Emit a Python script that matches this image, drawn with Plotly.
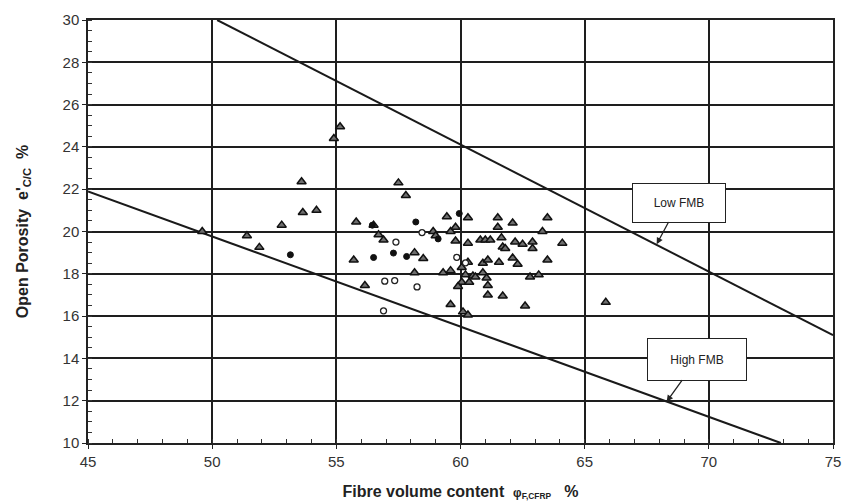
import plotly.graph_objects as go

# ---- data ----
tri_x = [49.6, 51.4, 51.9, 52.8, 53.6, 53.65, 54.2, 54.9, 55.15, 55.8, 55.7, 56.15, 56.5, 56.7,
         56.9, 57.5, 57.8, 58.15, 58.5, 58.15, 58.9, 59.0, 59.45, 59.6, 59.8, 59.8, 60.3, 60.3,
         60.8, 61.0, 61.2, 61.5, 61.5, 61.65, 61.7, 61.8, 62.1, 62.2, 62.5, 62.9, 62.9, 63.5,
         63.3, 64.1, 59.3, 59.6, 60.05, 60.2, 60.05, 59.9, 60.35, 60.3, 60.5, 60.6, 60.9, 61.05,
         61.1, 60.9, 61.1, 61.55, 62.1, 62.3, 63.5, 62.8, 63.15, 61.1, 61.7, 59.6, 62.6, 65.85,
         60.1, 60.3]
tri_y = [20.0, 19.8, 19.25, 20.3, 22.35, 20.9, 21.0, 24.4, 24.95, 20.45, 18.65, 17.45, 20.3, 19.85,
         19.6, 22.3, 21.7, 19.0, 18.72, 18.05, 20.0, 19.8, 20.7, 20.0, 20.2, 19.55, 20.65, 19.45,
         19.6, 19.6, 19.6, 20.65, 20.2, 19.7, 19.27, 19.2, 20.4, 19.5, 19.4, 19.5, 19.2, 20.65,
         20.0, 19.45, 18.05, 18.15, 18.3, 17.95, 17.6, 17.4, 17.6, 18.55, 17.9, 17.85, 18.05, 17.8,
         17.45, 18.5, 18.65, 18.55, 18.75, 18.45, 18.65, 17.85, 17.95, 17.0, 16.95, 16.55, 16.48, 16.65,
         16.2, 16.05]

fill_x = [53.15, 56.5, 57.3, 57.83, 58.2, 59.95, 59.1, 56.45]
fill_y = [18.9, 18.77, 18.98, 18.82, 20.45, 20.85, 19.65, 20.3]

open_x = [58.45, 57.4, 56.95, 57.35, 58.25, 56.9, 59.85, 60.2]
open_y = [19.95, 19.5, 17.65, 17.68, 17.38, 16.25, 18.78, 18.52]

low_fmb_x = [50.2, 75.0]
low_fmb_y = [30.0, 15.1]
high_fmb_x = [45.0, 72.9]
high_fmb_y = [21.9, 10.0]

x_ticks = [45, 50, 55, 60, 65, 70, 75]
y_ticks = [10, 12, 14, 16, 18, 20, 22, 24, 26, 28, 30]

fig = go.Figure()

fig.add_trace(go.Scatter(x=low_fmb_x, y=low_fmb_y, mode="lines",
                         line=dict(color="#1a1a1a", width=2), showlegend=False))
fig.add_trace(go.Scatter(x=high_fmb_x, y=high_fmb_y, mode="lines",
                         line=dict(color="#1a1a1a", width=2), showlegend=False))

fig.add_trace(go.Scatter(x=tri_x, y=tri_y, mode="markers",
                         marker=dict(symbol="triangle-up", size=8, color="#6e6e6e",
                                     line=dict(color="#111", width=1.5)),
                         showlegend=False))
fig.add_trace(go.Scatter(x=fill_x, y=fill_y, mode="markers",
                         marker=dict(symbol="circle", size=6, color="#111",
                                     line=dict(color="#111", width=1)),
                         showlegend=False))
fig.add_trace(go.Scatter(x=open_x, y=open_y, mode="markers",
                         marker=dict(symbol="circle", size=6, color="white",
                                     line=dict(color="#222", width=1.3)),
                         showlegend=False))

fig.add_annotation(x=67.9, y=19.4, ax=68.8, ay=21.37, axref="x", ayref="y",
                   text="Low FMB", showarrow=True, arrowhead=2, arrowsize=1, arrowwidth=1.3,
                   arrowcolor="#222", bgcolor="white", bordercolor="#222", borderwidth=1,
                   width=90, height=36, font=dict(family="Arial", size=12, color="#222"))
fig.add_annotation(x=68.3, y=11.95, ax=69.53, ay=13.97, axref="x", ayref="y",
                   text="High FMB", showarrow=True, arrowhead=2, arrowsize=1, arrowwidth=1.3,
                   arrowcolor="#222", bgcolor="white", bordercolor="#222", borderwidth=1,
                   width=96, height=39, font=dict(family="Arial", size=12, color="#222"))

axis_common = dict(showgrid=True, gridcolor="#1e1e1e", gridwidth=1.5,
                   showline=True, linecolor="#222", linewidth=1.5, mirror=True,
                   zeroline=False, ticks="outside", ticklen=4, tickcolor="#222",
                   automargin=False,
                   tickfont=dict(family="Arial", size=15, color="#333"))

fig.update_xaxes(range=[45, 75], tickvals=x_ticks, ticktext=[str(v) for v in x_ticks],
                 minor=dict(dtick=1, tick0=45, ticks="inside", ticklen=4, tickcolor="#333", showgrid=False),
                 title=dict(text="Fibre volume content  <span style='font-size:12px'>φ<sub>F,CFRP</sub></span>   %",
                            font=dict(family="Arial", size=16, color="#222", weight="bold"), standoff=17),
                 **axis_common)
fig.update_yaxes(range=[10, 30], tickvals=y_ticks, ticktext=[str(v) for v in y_ticks],
                 minor=dict(dtick=0.5, tick0=10, ticks="inside", ticklen=4, tickcolor="#333", showgrid=False),
                 title=dict(text="Open Porosity  e'<sub>C/C</sub>  %",
                            font=dict(family="Arial", size=16, color="#222", weight="bold"), standoff=30),
                 **axis_common)

fig.update_layout(width=844, height=503, margin=dict(l=88, r=11, t=20, b=60),
                  plot_bgcolor="white", paper_bgcolor="white")

fig.write_html("out.html")
